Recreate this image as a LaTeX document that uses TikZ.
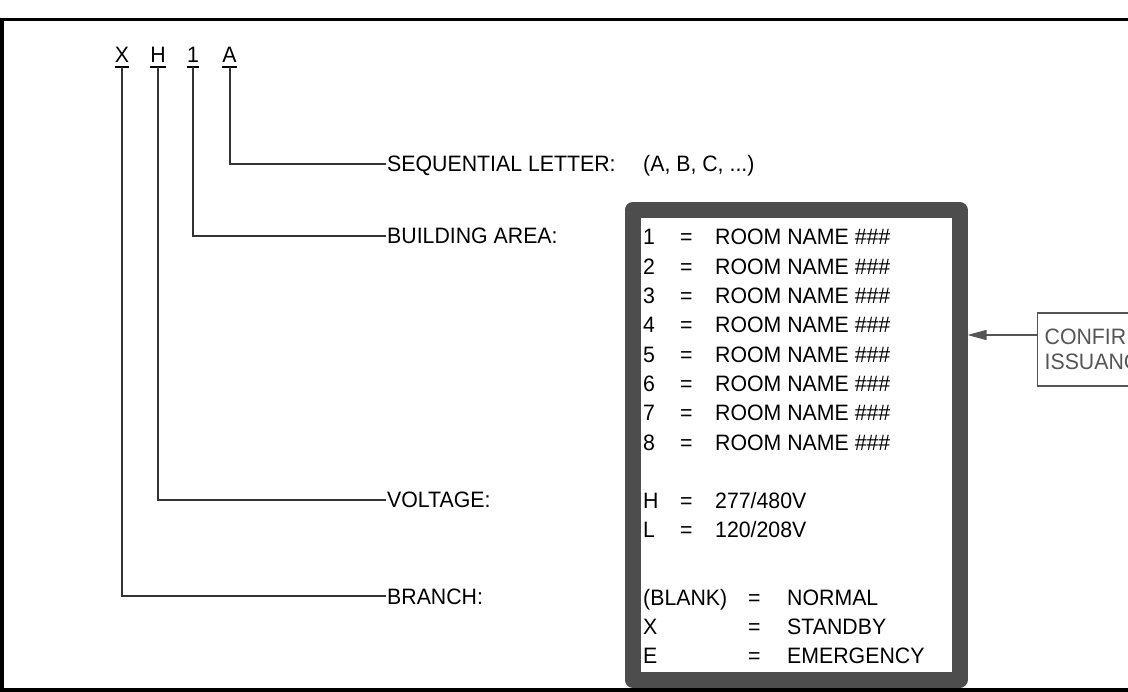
\documentclass[tikz,border=0pt]{standalone}
\usepackage{fontspec}
\setmainfont{Liberation Sans}[FakeStretch=0.955]
\usetikzlibrary{arrows.meta}
\definecolor{boxgray}{HTML}{4D4D4D}
\definecolor{linegray}{HTML}{333333}
\definecolor{notegray}{HTML}{555555}
\begin{document}
\begin{tikzpicture}[x=1pt,y=-1pt,
  txt/.style={anchor=west, inner xsep=1pt, inner ysep=0pt, text height=16pt, text depth=0pt, font=\fontsize{22.3}{29}\selectfont},
  letter/.style={anchor=base, inner sep=0pt, font=\fontsize{22.3}{29}\selectfont},
  uline/.style={draw=black, line width=2pt},
  conn/.style={draw=linegray, line width=2pt},
  frame/.style={draw=black, line width=4pt},
  notearrow/.style={draw=notegray, line width=1.3pt, -{Triangle[length=19pt,width=10pt]}},
  notebox/.style={draw=notegray, line width=1.3pt, text=notegray, anchor=west, align=left, inner xsep=7pt, inner ysep=0pt, minimum height=73pt, text width=200pt, font=\fontsize{22.3}{25}\selectfont}
]
\useasboundingbox (0,0) rectangle (1128,692);
\clip (0,0) rectangle (1128,692);

% legend box
\node[draw=boxgray, line width=16pt, line join=round, minimum width=327pt, minimum height=469.5pt, inner sep=0pt] (box) at (796,444.75) {};

% code letters
\node[letter] (X) at (122,63) {X};
\node[letter] (H) at (158,63) {H};
\node[letter] (N) at (193,63) {1};
\node[letter] (A) at (229.5,63) {A};
\foreach \n in {X,H,N,A}
  \draw[uline] ([yshift=-4pt]\n.base west) -- ([yshift=-4pt]\n.base east);

% labels
\node[txt] (seq) at (386,164) {SEQUENTIAL LETTER:};
\node[txt] (bld) at (386,236) {BUILDING AREA:};
\node[txt] (vol) at (386,500) {VOLTAGE:};
\node[txt] (brn) at (386,596) {BRANCH:};
\node[txt] (abc) at (642,164) {(A, B, C, ...)};

% connectors
\draw[conn] ([yshift=-4pt]A.base) |- (seq.west);
\draw[conn] ([yshift=-4pt]N.base) |- (bld.west);
\draw[conn] ([yshift=-4pt]H.base) |- (vol.west);
\draw[conn] ([yshift=-4pt]X.base) |- (brn.west);

% building area rows
\foreach \k in {1,...,8} {
  \pgfmathsetmacro{\yy}{237+29.3*(\k-1)}
  \node[txt] (ba\k) at (642,\yy) {\k};
  \node[txt] (be\k) at (679,\yy) {=};
  \node[txt] (bn\k) at (714,\yy) {ROOM NAME \#\#\#};
}
% voltage rows
\node[txt] (vh) at (642,501) {H};
\node[txt] (vhe) at (679,501) {=};
\node[txt] (vhv) at (714,501) {277/480V};
\node[txt] (vl) at (642,530) {L};
\node[txt] (vle) at (679,530) {=};
\node[txt] (vlv) at (714,530) {120/208V};
% branch rows
\node[txt] (bb) at (642,597) {(BLANK)};
\node[txt] (bbe) at (747,597) {=};
\node[txt] (bbv) at (786,597) {NORMAL};
\node[txt] (bx) at (642,626) {X};
\node[txt] (bxe) at (747,626) {=};
\node[txt] (bxv) at (786,626) {STANDBY};
\node[txt] (be) at (642,655) {E};
\node[txt] (bee) at (747,655) {=};
\node[txt] (bev) at (786,655) {EMERGENCY};

% note
\node[notebox] (cf) at (1037,349.5) {CONFIRM\\ISSUANCE};
\coordinate (cfa) at (1037,335);
\draw[notearrow] (cfa) -- (cfa -| box.east);

% frame
\draw[frame, line width=3.5pt] (0,19.5) -- (1130,19.5);
\draw[frame] (2,18) -- (2,690) -- (1130,690);
\end{tikzpicture}
\end{document}
